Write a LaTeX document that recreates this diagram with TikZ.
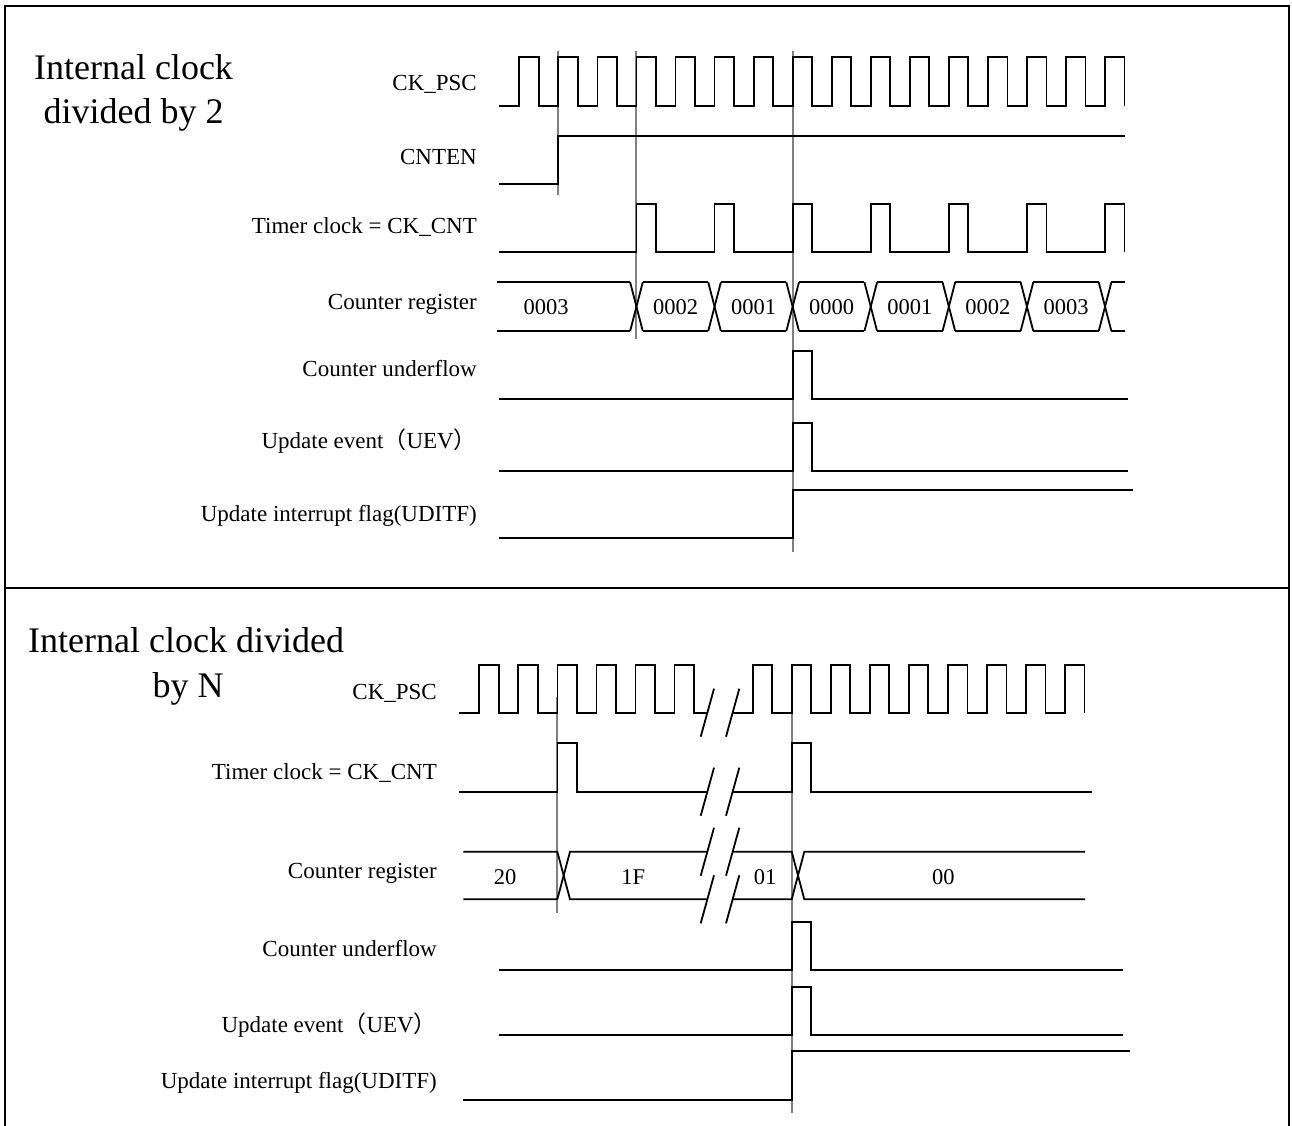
\documentclass[tikz,border=0pt]{standalone}
\usepackage{fontspec}
\setmainfont{Liberation Serif}
\newfontfamily\cjk{Noto Sans CJK SC}
\begin{document}
\begin{tikzpicture}[x=1pt,y=-1pt,
  wave/.style={line width=1.8pt, line join=miter},
  guide/.style={line width=2pt, draw=black!50},
  frame/.style={line width=2pt},
  lab/.style={anchor=base east, inner sep=0pt, font=\fontsize{23}{27}\selectfont},
  val/.style={inner sep=0pt, font=\fontsize{22.5}{27}\selectfont},
  ttl/.style={inner sep=0pt, font=\fontsize{36}{42}\selectfont}]
\useasboundingbox (0,0) rectangle (1292,1126);
% frame
\draw[frame] (5,1128) -- (5,6) -- (1289,6) -- (1289,1128);
\draw[frame] (5,588) -- (1289,588);
% titles
\node[ttl, anchor=base] (t1a) at (133.5,79.5) {Internal clock};
\node[ttl, anchor=base] (t1b) at (133.5,123.5) {divided by 2};
\node[ttl, anchor=base west] (t2a) at (28,652) {Internal clock divided};
\node[ttl, anchor=base] (t2b) at (188,697) {by N};
% labels top
\node[lab] (l1) at (477,91) {CK\_PSC};
\node[lab] (l2) at (477,165) {CNTEN};
\node[lab] (l3) at (477,233) {Timer clock = CK\_CNT};
\node[lab] (l4) at (477,309) {Counter register};
\node[lab] (l5) at (477,376) {Counter underflow};
\node[lab] (l6) at (477,448) {Update event{\cjk （}UEV{\cjk ）}};
\node[lab] (l7) at (477,521) {Update interrupt flag(UDITF)};
% labels bottom
\node[lab] (m1) at (437,699) {CK\_PSC};
\node[lab] (m2) at (437,779) {Timer clock = CK\_CNT};
\node[lab] (m3) at (437,878) {Counter register};
\node[lab] (m4) at (437,956) {Counter underflow};
\node[lab] (m5) at (437,1032) {Update event{\cjk （}UEV{\cjk ）}};
\node[lab] (m6) at (437,1088) {Update interrupt flag(UDITF)};
% guide lines top
\draw[guide] (558.35,51) -- (558.35,195);
\draw[guide] (636.45,51) -- (636.45,339);
\draw[guide] (792.65,51) -- (792.65,552);
% guide lines bottom
\draw[guide] (557.4,697) -- (557.4,912.7);
\draw[guide] (791.7,697) -- (791.7,1113.3);
% ---- top waveforms
\draw[wave] (499,105.7) \foreach \k in {0,...,15}{ -- ({519.3+39.05*\k},105.7) -- ++(0,-49) -- ++(19.5,0) -- ++(0,49)};
\draw[wave] (499,184.3) -- (558.35,184.3) -- (558.35,136) -- (1125,136);
\draw[wave] (499,252.3) \foreach \k in {3,5,...,15}{ -- ({519.3+39.05*\k},252.3) -- ++(0,-48.3) -- ++(19.5,0) -- ++(0,48.3)};
% counter register top
\draw[wave] (497,282.3) -- (630.15,282.3);
\draw[wave] (497,331) -- (630.15,331);
\foreach \i in {0,...,6}{
  \pgfmathsetmacro{\c}{636.45+78.1*\i}
  \draw[wave] ({\c-6.3},282.3) -- ({\c+6.3},331);
  \draw[wave] ({\c-6.3},331) -- ({\c+6.3},282.3);
}
\foreach \i in {0,...,5}{
  \pgfmathsetmacro{\c}{636.45+78.1*\i}
  \draw[wave] ({\c+6.3},282.3) -- ({\c+78.1-6.3},282.3);
  \draw[wave] ({\c+6.3},331) -- ({\c+78.1-6.3},331);
}
\draw[wave] (1111.35,282.3) -- (1124.5,282.3);
\draw[wave] (1111.35,331) -- (1124.5,331);
\node[val] (v0) at (546,306.7) {0003};
\node[val] (v1) at (675.5,306.7) {0002};
\node[val] (v2) at (753.6,306.7) {0001};
\node[val] (v3) at (831.7,306.7) {0000};
\node[val] (v4) at (909.8,306.7) {0001};
\node[val] (v5) at (987.9,306.7) {0002};
\node[val] (v6) at (1066,306.7) {0003};
% underflow / UEV / UDITF top
\draw[wave] (499,399) -- (792.65,399) -- (792.65,350.7) -- (812.15,350.7) -- (812.15,399) -- (1128,399);
\draw[wave] (499,471) -- (792.65,471) -- (792.65,422.7) -- (812.15,422.7) -- (812.15,471) -- (1128,471);
\draw[wave] (499,538.3) -- (792.65,538.3) -- (792.65,490) -- (1133,490);
% ---- bottom waveforms
\draw[wave] (459.3,712.7) \foreach \k in {0,...,5}{ -- ({479.3+39.05*\k},712.7) -- ++(0,-47.7) -- ++(19.5,0) -- ++(0,47.7)} -- (707.35,712.7);
\draw[wave] (732.65,712.7) \foreach \k in {7,...,15}{ -- ({479.3+39.05*\k},712.7) -- ++(0,-47.7) -- ++(19.5,0) -- ++(0,47.7)};
\draw[wave] (459.3,791.7) -- (557.4,791.7) -- (557.4,743.3) -- (576.9,743.3) -- (576.9,791.7) -- (707.35,791.7);
\draw[wave] (732.65,791.7) -- (791.7,791.7) -- (791.7,743.3) -- (811.2,743.3) -- (811.2,791.7) -- (1091.7,791.7);
% counter register bottom
\draw[wave] (463.3,851.7) -- (557.3,851.7) -- (570,899.3) -- (707.35,899.3);
\draw[wave] (463.3,899.3) -- (557.3,899.3) -- (570,851.7) -- (707.35,851.7);
\draw[wave] (732.65,851.7) -- (791.7,851.7) -- (804.3,899.3) -- (1085,899.3);
\draw[wave] (732.65,899.3) -- (791.7,899.3) -- (804.3,851.7) -- (1085,851.7);
\node[val] (w0) at (505,876.7) {20};
\node[val] (w1) at (633.3,876.7) {1F};
\node[val] (w2) at (765,876.7) {01};
\node[val] (w3) at (943.3,876.7) {00};
% break marks
\foreach \cy in {712.7,791.7,851.7,899.3}{
  \draw[wave] (700.7,{\cy+24}) -- (714,{\cy-24});
  \draw[wave] (726,{\cy+24}) -- (739.3,{\cy-24});
}
% underflow / UEV / UDITF bottom
\draw[wave] (499,970) -- (791.7,970) -- (791.7,921.7) -- (811,921.7) -- (811,970) -- (1123,970);
\draw[wave] (499,1035) -- (791.7,1035) -- (791.7,986.7) -- (811,986.7) -- (811,1035) -- (1123,1035);
\draw[wave] (462.5,1100) -- (791.7,1100) -- (791.7,1050.7) -- (1130,1050.7);
\end{tikzpicture}
\end{document}
